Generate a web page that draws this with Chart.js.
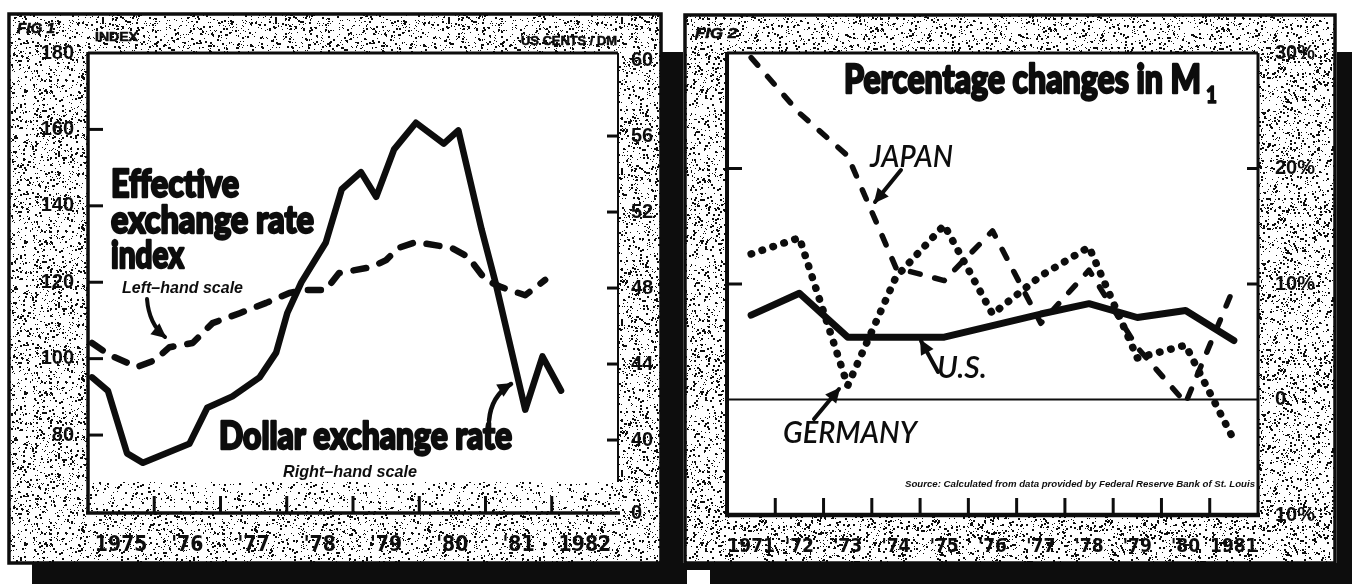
<!DOCTYPE html>
<html>
<head>
<meta charset="utf-8">
<script src="https://cdn.jsdelivr.net/npm/chart.js@4.4.1/dist/chart.umd.min.js"></script>
<style>
html,body{margin:0;padding:0;background:#fff;}
#wrap{position:relative;width:1352px;height:584px;overflow:hidden;background:#fff;}
#wrap canvas{position:absolute;left:0;top:0;}
</style>
</head>
<body>
<div id="wrap">
<canvas id="c1" width="1352" height="584"></canvas>
<canvas id="c2" width="1352" height="584"></canvas>
</div>
<script>
// ---------------- FIG 1 data ----------------
const fig1YearLabels = ['1975', "'76", "'77", "'78", "'79", "'80", "'81", '1982'];
const fig1IndexTicks = [80, 100, 120, 140, 160, 180];
const fig1CentsTicks = [40, 44, 48, 52, 56, 60];
const fig1CentsTickLabels = ['0', '40', '44', '48', '52', '56', '60']; // '0' = broken-axis baseline

// Dollar exchange rate, US cents per DM (right-hand scale)
const dollarTime  = [1975.06, 1975.30, 1975.59, 1975.83, 1976.53, 1976.80, 1977.18, 1977.59, 1977.84, 1978.01, 1978.22, 1978.59, 1978.83, 1979.12, 1979.35, 1979.62, 1979.95, 1980.37, 1980.59, 1980.94, 1981.15, 1981.60, 1981.86, 1982.14];
const dollarCents = [43.3, 42.6, 39.3, 38.8, 39.8, 41.7, 42.3, 43.3, 44.6, 46.7, 48.3, 50.4, 53.2, 54.1, 52.8, 55.3, 56.7, 55.6, 56.3, 51.1, 48.3, 41.6, 44.4, 42.6];

// Effective exchange rate index (left-hand scale)
const indexTime  = [1975.06, 1975.33, 1975.74, 1976.01, 1976.23, 1976.58, 1976.88, 1977.29, 1977.69, 1978.04, 1978.29, 1978.59, 1978.79, 1979.29, 1979.50, 1979.69, 1979.95, 1980.49, 1980.74, 1981.00, 1981.24, 1981.60, 1981.90];
const indexValue = [104.1, 100.9, 97.8, 99.6, 103.0, 104.1, 109.3, 111.9, 114.6, 117.2, 118.0, 118.0, 122.4, 124.0, 125.8, 129.0, 130.5, 129.0, 126.6, 120.6, 118.7, 116.6, 120.6];

// ---------------- FIG 2 data ----------------
const fig2Years = ['1971', "'72", "'73", "'74", "'75", "'76", "'77", "'78", "'79", "'80", '1981'];
const usM1      = [7.3, 9.2, 5.4, 5.4, 5.4, 6.4, 7.4, 8.3, 7.1, 7.7, 5.1];
const japanM1   = [29.6, 24.8, 21.1, 11.4, 10.3, 14.6, 6.6, 11.2, 4.5, -0.3, 9.7];
const germanyM1 = [12.6, 14.0, 1.2, 10.6, 15.1, 7.4, 10.7, 13.2, 3.6, 4.7, -3.5];
const fig2PctTicks = [-10, 0, 10, 20, 30];
const fig2PctTickLabels = ['10%', '0', '10%', '20%', '30%'];

// ---------------- helpers ----------------
const INK = '#0d0d0d';
const NARROW = "'Liberation Sans Narrow','DejaVu Sans Condensed','Liberation Sans',sans-serif";
const SANS = "'Liberation Sans','DejaVu Sans',sans-serif";
const HEAVY = "'Lato','Inter','Liberation Sans',sans-serif";

function hash(x, y, s) {
  let n = Math.imul(x + 17 * s, 374761393) ^ Math.imul(y + 31 * s, 668265263);
  n = Math.imul(n ^ (n >>> 13), 1274126177);
  n ^= n >>> 16;
  return (n >>> 0) / 4294967296;
}
function stipple(ctx, density, seed) {
  const c = document.createElement('canvas');
  c.width = 173; c.height = 151;
  const g = c.getContext('2d');
  g.fillStyle = INK;
  for (let y = 0; y < c.height; y++) {
    for (let x = 0; x < c.width; x++) {
      const r = hash(x, y, seed);
      if (r < density * 0.35) g.fillRect(x, y, 2, 2);
      else if (r < density) g.fillRect(x, y, 1, 1);
    }
  }
  return ctx.createPattern(c, 'repeat');
}
function fitText(ctx, s, x, y, w, font, stroke) {
  ctx.save();
  ctx.font = font;
  ctx.textAlign = 'left';
  ctx.textBaseline = 'alphabetic';
  const m = ctx.measureText(s).width;
  ctx.translate(x, y);
  ctx.scale(w / m, 1);
  ctx.fillStyle = INK;
  ctx.fillText(s, 0, 0);
  if (stroke) {
    ctx.strokeStyle = INK;
    ctx.lineWidth = stroke;
    ctx.lineJoin = 'round';
    ctx.strokeText(s, 0, 0);
  }
  ctx.restore();
}
function arrow(ctx, tail, ctrl, tip, lw, head) {
  ctx.save();
  ctx.strokeStyle = INK; ctx.fillStyle = INK;
  ctx.lineWidth = lw; ctx.lineCap = 'round';
  ctx.beginPath();
  ctx.moveTo(tail[0], tail[1]);
  if (ctrl) ctx.quadraticCurveTo(ctrl[0], ctrl[1], tip[0], tip[1]);
  else ctx.lineTo(tip[0], tip[1]);
  ctx.stroke();
  const from = ctrl || tail;
  const a = Math.atan2(tip[1] - from[1], tip[0] - from[0]);
  const bx = tip[0] - head * Math.cos(a), by = tip[1] - head * Math.sin(a);
  const hw = head * 0.55;
  ctx.beginPath();
  ctx.moveTo(tip[0] + 2 * Math.cos(a), tip[1] + 2 * Math.sin(a));
  ctx.lineTo(bx + hw * Math.sin(a), by - hw * Math.cos(a));
  ctx.lineTo(bx - hw * Math.sin(a), by + hw * Math.cos(a));
  ctx.closePath();
  ctx.fill();
  ctx.restore();
}
function line(ctx, x1, y1, x2, y2, w) {
  ctx.save();
  ctx.strokeStyle = INK; ctx.lineWidth = w; ctx.lineCap = 'butt';
  ctx.beginPath(); ctx.moveTo(x1, y1); ctx.lineTo(x2, y2); ctx.stroke();
  ctx.restore();
}

// ---------------- FIG 1 ----------------
const fig1Frame = {
  id: 'fig1Frame',
  beforeDraw(chart) {
    const ctx = chart.ctx, ca = chart.chartArea;
    const pat = stipple(ctx, 0.075, 1), patLight = stipple(ctx, 0.05, 2);
    ctx.save();
    ctx.fillStyle = '#fff';
    ctx.fillRect(0, 0, chart.width, chart.height);
    // stippled frame
    ctx.fillStyle = pat;
    ctx.beginPath();
    ctx.rect(9, 15, 652, 548);
    ctx.rect(ca.left, ca.top, ca.right - ca.left, ca.bottom - ca.top);
    ctx.fill('evenodd');
    // broken-axis band
    ctx.fillStyle = patLight;
    ctx.fillRect(ca.left, ca.bottom - 31, ca.right - ca.left, 31);
    // outer border
    ctx.strokeStyle = INK; ctx.lineWidth = 3.5;
    ctx.strokeRect(9, 14, 652, 549);
    // shadows
    ctx.fillStyle = INK;
    ctx.fillRect(661, 52, 22, 532);
    ctx.fillRect(32, 563, 651, 21);
    ctx.restore();
  },
  beforeDatasetsDraw(chart) {
    const ctx = chart.ctx, ca = chart.chartArea;
    const sx = chart.scales.x, sy = chart.scales.y, sy2 = chart.scales.y2;
    line(ctx, ca.left, ca.top - 1, ca.left, ca.bottom, 3.5);
    line(ctx, ca.left, ca.top, ca.right, ca.top, 3);
    line(ctx, ca.right, ca.top, ca.right, ca.bottom - 31, 2);
    line(ctx, ca.left - 2, ca.bottom, ca.right + 2, ca.bottom, 3.5);
    // x tick marks (year boundaries) pointing up
    for (let i = 1; i < fig1YearLabels.length; i++) {
      const px = sx.getPixelForValue(sx.min + i);
      line(ctx, px, ca.bottom, px, ca.bottom - 17, 3);
    }
    fig1IndexTicks.forEach(v => {
      const py = sy.getPixelForValue(v);
      if (v < 180) line(ctx, ca.left, py, ca.left + 15, py, 3);
    });
    fig1CentsTicks.forEach(v => {
      const py = sy2.getPixelForValue(v);
      if (v < 60) line(ctx, ca.right - 11, py, ca.right, py, 3);
    });
  },
  afterDatasetsDraw(chart) {
    const ctx = chart.ctx;
    fitText(ctx, 'FIG 1', 17, 33, 38, 'italic bold 15px ' + SANS, 0.6);
    fitText(ctx, 'INDEX', 95, 41, 43, 'bold 12px ' + SANS, 0.5);
    fitText(ctx, 'US CENTS / DM', 521, 45, 96, 'bold 13px ' + SANS, 0.6);
    fitText(ctx, 'Effective', 111, 197, 128, '900 38px ' + HEAVY, 2.4);
    fitText(ctx, 'exchange rate', 111, 233, 203, '900 38px ' + HEAVY, 2.4);
    fitText(ctx, 'index', 111, 268, 73, '900 38px ' + HEAVY, 2.4);
    fitText(ctx, 'Left\u2013hand scale', 122, 293, 121, 'italic bold 17px ' + SANS);
    fitText(ctx, 'Dollar exchange rate', 219, 449, 293, '900 37px ' + HEAVY, 2.4);
    fitText(ctx, 'Right\u2013hand scale', 283, 477, 134, 'italic bold 17px ' + SANS);
    arrow(ctx, [147, 299], [149, 324], [165, 337], 4, 13);
    arrow(ctx, [489, 421], [491, 396], [511, 384], 4.5, 13);
  }
};

const chart1 = new Chart(document.getElementById('c1'), {
  type: 'line',
  data: {
    datasets: [
      {
        label: 'Dollar exchange rate (US cents/DM)',
        data: dollarTime.map((t, i) => ({ x: t, y: dollarCents[i] })),
        yAxisID: 'y2',
        borderColor: INK, borderWidth: 6.5, pointRadius: 0, tension: 0,
        borderJoinStyle: 'round', borderCapStyle: 'round'
      },
      {
        label: 'Effective exchange rate index',
        data: indexTime.map((t, i) => ({ x: t, y: indexValue[i] })),
        yAxisID: 'y',
        borderColor: INK, borderWidth: 6.5, pointRadius: 0, tension: 0,
        borderDash: [13, 14], borderCapStyle: 'round', borderJoinStyle: 'round'
      }
    ]
  },
  options: {
    responsive: false, animation: false, devicePixelRatio: 1,
    layout: { padding: { top: 53, right: 680, left: 0, bottom: 0 } },
    plugins: { legend: { display: false }, tooltip: { enabled: false } },
    scales: {
      x: {
        type: 'linear', min: 1975, max: 1983, position: 'bottom',
        grid: { display: false }, border: { display: false },
        afterBuildTicks: s => { s.ticks = fig1YearLabels.map((_, i) => ({ value: s.min + i + 0.5 })); },
        afterFit: s => { s.height = 71; },
        ticks: {
          autoSkip: false, maxRotation: 0, padding: 12, color: INK,
          font: { family: NARROW, size: 21, weight: 'bold' },
          callback: (v, i) => fig1YearLabels[i]
        }
      },
      y: {
        type: 'linear', position: 'left', min: 59.6, max: 180,
        grid: { display: false }, border: { display: false },
        afterBuildTicks: s => { s.ticks = fig1IndexTicks.map(v => ({ value: v })); },
        afterFit: s => { s.width = 88; },
        ticks: { padding: 6, color: INK, font: { family: SANS, size: 20, weight: 'bold' } }
      },
      y2: {
        type: 'linear', position: 'right', min: 36.16, max: 60.37,
        grid: { display: false }, border: { display: false },
        afterBuildTicks: s => { s.ticks = [{ value: s.min }].concat(fig1CentsTicks.map(v => ({ value: v }))); },
        afterFit: s => { s.width = 54; },
        ticks: {
          padding: 5, color: INK, font: { family: SANS, size: 20, weight: 'bold' },
          callback: (v, i) => fig1CentsTickLabels[i]
        }
      }
    }
  },
  plugins: [fig1Frame]
});

// ---------------- FIG 2 ----------------
const fig2Frame = {
  id: 'fig2Frame',
  beforeDraw(chart) {
    const ctx = chart.ctx, ca = chart.chartArea;
    const pat = stipple(ctx, 0.075, 3);
    ctx.save();
    ctx.fillStyle = pat;
    ctx.beginPath();
    ctx.rect(685, 16, 650, 547);
    ctx.rect(ca.left, ca.top, ca.right - ca.left, ca.bottom - ca.top);
    ctx.fill('evenodd');
    ctx.fillStyle = '#fff';
    ctx.fillRect(ca.left, ca.top, ca.right - ca.left, ca.bottom - ca.top);
    ctx.strokeStyle = INK; ctx.lineWidth = 3.5;
    ctx.strokeRect(685, 15, 650, 548);
    ctx.fillStyle = INK;
    ctx.fillRect(683, 563, 669, 21);
    ctx.fillRect(1337, 52, 15, 532);
    ctx.fillStyle = '#fff';
    ctx.fillRect(687, 570, 23, 14);
    ctx.restore();
  },
  beforeDatasetsDraw(chart) {
    const ctx = chart.ctx, ca = chart.chartArea;
    const sx = chart.scales.x, sy = chart.scales.y;
    line(ctx, ca.left, ca.top - 1, ca.left, ca.bottom, 4);
    line(ctx, ca.left, ca.top, ca.right, ca.top, 3);
    line(ctx, ca.right, ca.top, ca.right, ca.bottom, 3);
    line(ctx, ca.left - 2, ca.bottom, ca.right + 2, ca.bottom, 4.5);
    const y0 = sy.getPixelForValue(0);
    line(ctx, ca.left, y0, ca.right, y0, 2);
    for (let i = 1; i < fig2Years.length; i++) {
      const px = (sx.getPixelForTick(i - 1) + sx.getPixelForTick(i)) / 2;
      line(ctx, px, ca.bottom, px, ca.bottom - 17, 3);
    }
    [10, 20].forEach(v => {
      const py = sy.getPixelForValue(v);
      line(ctx, ca.left, py, ca.left + 15, py, 3);
      line(ctx, ca.right - 11, py, ca.right, py, 3);
    });
  },
  afterDatasetsDraw(chart) {
    const ctx = chart.ctx;
    fitText(ctx, 'FIG 2', 695, 38, 42, 'italic bold 15px ' + SANS, 0.6);
    fitText(ctx, 'Percentage changes in M', 844, 93, 357, '900 39px ' + HEAVY, 2.4);
    fitText(ctx, '1', 1206, 103, 11, '900 22px ' + HEAVY, 1.4);
    fitText(ctx, 'JAPAN', 870, 167, 83, 'italic 600 31px ' + HEAVY);
    fitText(ctx, 'U.S.', 937, 378, 50, 'italic 600 31px ' + HEAVY);
    fitText(ctx, 'GERMANY', 783, 443, 134, 'italic 600 31px ' + HEAVY);
    fitText(ctx, 'Source: Calculated from data provided by Federal Reserve Bank of St. Louis', 905, 487, 350, 'italic bold 9px ' + SANS);
    arrow(ctx, [901, 170], null, [875, 202], 4, 13);
    arrow(ctx, [814, 419], null, [839, 389], 4, 13);
    arrow(ctx, [938, 372], null, [921, 341], 4, 13);
  }
};

const chart2 = new Chart(document.getElementById('c2'), {
  type: 'line',
  data: {
    labels: fig2Years,
    datasets: [
      {
        label: 'U.S.', data: usM1,
        borderColor: INK, borderWidth: 7, pointRadius: 0, tension: 0,
        borderJoinStyle: 'round', borderCapStyle: 'round'
      },
      {
        label: 'Japan', data: japanM1,
        borderColor: INK, borderWidth: 5.5, pointRadius: 0, tension: 0,
        borderDash: [10, 15], borderCapStyle: 'round', borderJoinStyle: 'round'
      },
      {
        label: 'Germany', data: germanyM1,
        borderColor: INK, borderWidth: 7.5, pointRadius: 0, tension: 0,
        borderDash: [0.5, 11], borderCapStyle: 'round', borderJoinStyle: 'round'
      }
    ]
  },
  options: {
    responsive: false, animation: false, devicePixelRatio: 1,
    layout: { padding: { top: 53, right: 0, left: 727, bottom: 0 } },
    plugins: { legend: { display: false }, tooltip: { enabled: false } },
    scales: {
      x: {
        type: 'category', offset: true,
        grid: { display: false }, border: { display: false },
        afterFit: s => { s.height = 69; },
        ticks: {
          autoSkip: false, maxRotation: 0, padding: 13, color: INK,
          font: { family: NARROW, size: 19, weight: 'bold' }
        }
      },
      y: {
        type: 'linear', position: 'right', min: -10, max: 30,
        grid: { display: false }, border: { display: false },
        afterBuildTicks: s => { s.ticks = fig2PctTicks.map(v => ({ value: v })); },
        afterFit: s => { s.width = 94; },
        ticks: {
          padding: 9, color: INK, font: { family: SANS, size: 20, weight: 'bold' },
          callback: (v, i) => fig2PctTickLabels[i]
        }
      }
    }
  },
  plugins: [fig2Frame]
});
</script>
</body>
</html>
